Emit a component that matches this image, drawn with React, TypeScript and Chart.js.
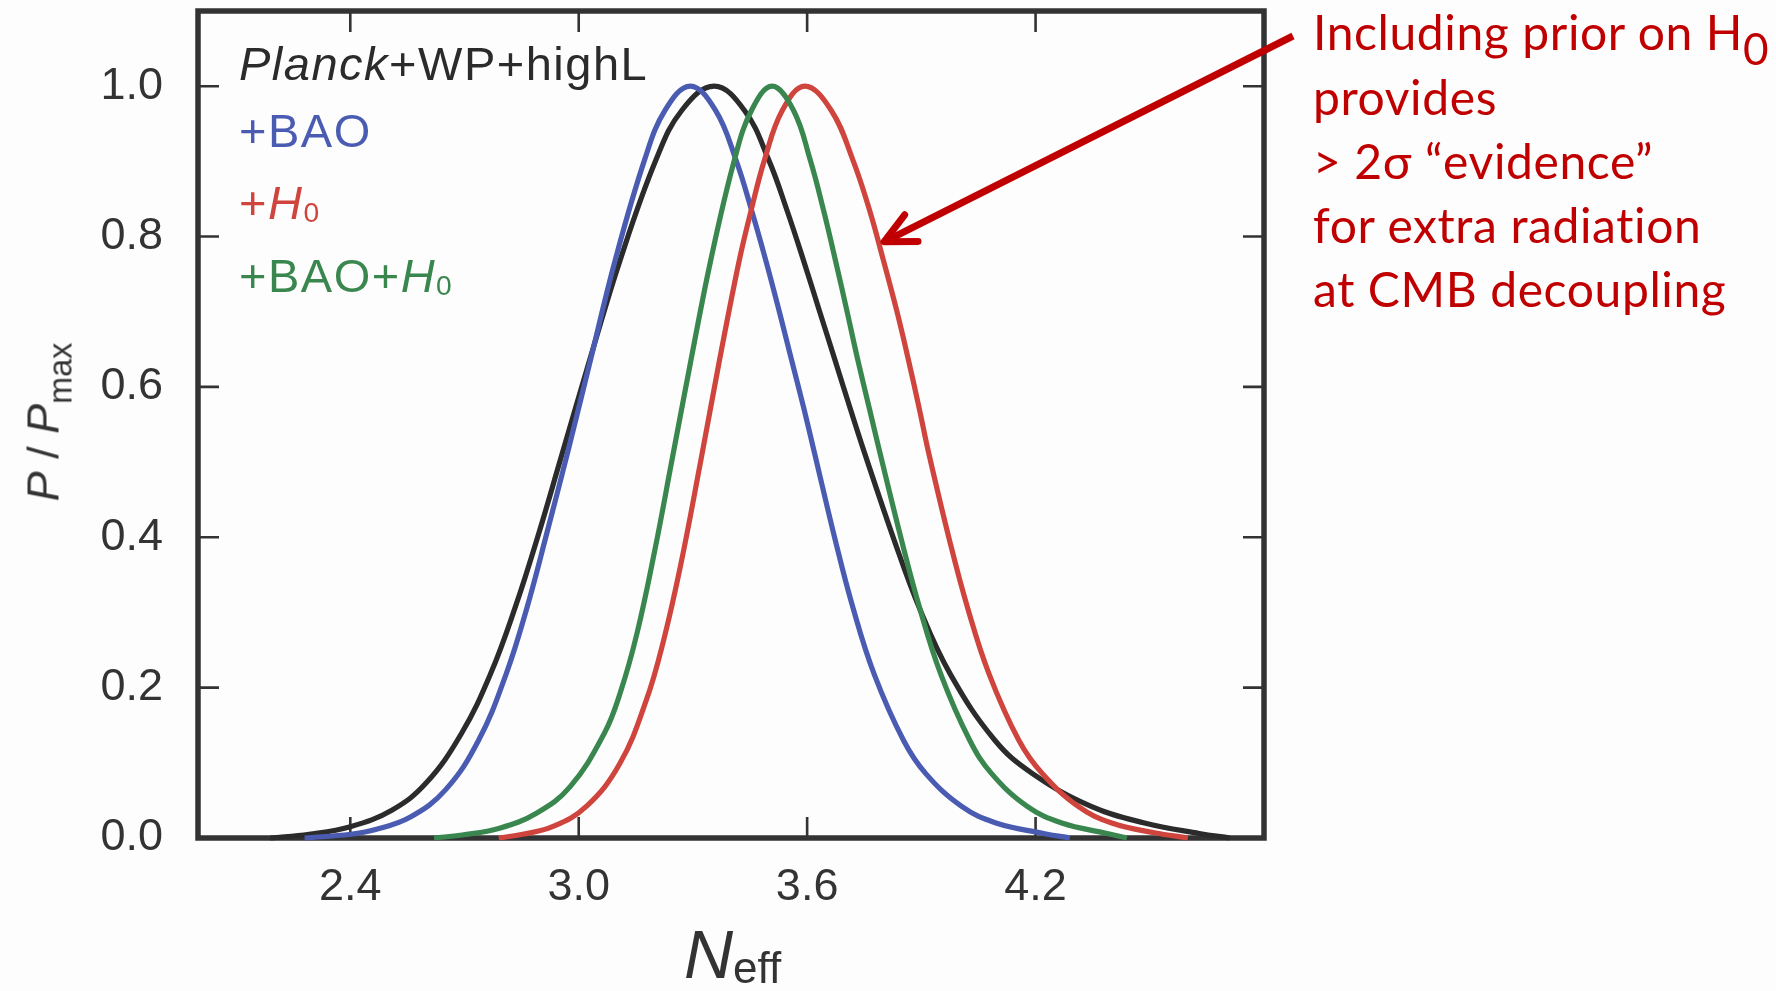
import React, { useEffect, useRef } from "react";
import { Chart, registerables } from "chart.js";

Chart.register(...registerables);

// ---------- data ----------
const xTickValues = [2.4, 3.0, 3.6, 4.2];
const yTickValues = [0.0, 0.2, 0.4, 0.6, 0.8, 1.0];
const xRange = [2.0, 4.8];
const yRange = [0, 1.1];

const seriesNames = ["Planck+WP+highL", "+BAO", "+H0", "+BAO+H0"];
const seriesColors = ["#2b2b2b", "#4a5bb2", "#cf453d", "#39874e"];

const planckN = [2.19, 2.292, 2.40, 2.509, 2.599, 2.692, 2.769, 2.834, 2.892, 2.953, 3.029, 3.109, 3.203, 3.271, 3.356, 3.435, 3.499, 3.547, 3.59, 3.633, 3.673, 3.714, 3.749, 3.826, 3.894, 3.976, 4.093, 4.191, 4.346, 4.486, 4.63, 4.71];
const planckP = [0.0, 0.005, 0.015, 0.037, 0.073, 0.139, 0.219, 0.308, 0.40, 0.505, 0.636, 0.769, 0.902, 0.968, 1.0, 0.968, 0.902, 0.835, 0.769, 0.70, 0.636, 0.57, 0.515, 0.40, 0.307, 0.218, 0.13, 0.086, 0.042, 0.02, 0.006, 0.0];

const baoN = [2.28, 2.401, 2.464, 2.558, 2.65, 2.737, 2.81, 2.865, 2.916, 2.972, 3.031, 3.096, 3.173, 3.227, 3.293, 3.359, 3.413, 3.454, 3.491, 3.527, 3.559, 3.592, 3.618, 3.674, 3.72, 3.776, 3.853, 3.911, 4.006, 4.096, 4.221, 4.29];
const baoP = [0.0, 0.005, 0.011, 0.028, 0.064, 0.13, 0.219, 0.308, 0.405, 0.515, 0.636, 0.769, 0.902, 0.968, 1.0, 0.968, 0.902, 0.835, 0.769, 0.70, 0.636, 0.57, 0.515, 0.396, 0.307, 0.218, 0.13, 0.086, 0.042, 0.02, 0.006, 0.0];

const h0N = [2.79, 2.853, 2.931, 3.02, 3.108, 3.178, 3.223, 3.267, 3.32, 3.37, 3.422, 3.453, 3.488, 3.535, 3.594, 3.663, 3.72, 3.764, 3.80, 3.836, 3.866, 3.895, 3.918, 3.974, 4.021, 4.078, 4.156, 4.217, 4.312, 4.40, 4.512, 4.60];
const h0P = [0.0, 0.005, 0.015, 0.042, 0.099, 0.184, 0.263, 0.361, 0.50, 0.636, 0.769, 0.835, 0.902, 0.968, 1.0, 0.968, 0.902, 0.835, 0.769, 0.70, 0.636, 0.57, 0.515, 0.396, 0.307, 0.218, 0.13, 0.086, 0.042, 0.02, 0.007, 0.0];

const baoH0N = [2.62, 2.694, 2.792, 2.889, 2.977, 3.067, 3.109, 3.153, 3.20, 3.244, 3.295, 3.347, 3.409, 3.454, 3.508, 3.564, 3.608, 3.643, 3.674, 3.705, 3.733, 3.764, 3.79, 3.848, 3.895, 3.951, 4.027, 4.084, 4.178, 4.269, 4.388, 4.44];
const baoH0P = [0.0, 0.004, 0.013, 0.033, 0.068, 0.139, 0.193, 0.272, 0.383, 0.50, 0.636, 0.769, 0.902, 0.968, 1.0, 0.968, 0.902, 0.835, 0.769, 0.70, 0.636, 0.57, 0.515, 0.396, 0.307, 0.218, 0.13, 0.086, 0.042, 0.02, 0.006, 0.0];

const seriesN = [planckN, baoN, h0N, baoH0N];
const seriesP = [planckP, baoP, h0P, baoH0P];

const annotationLines = ["Including prior on H", "provides", "> 2σ “evidence”", "for extra radiation", "at CMB decoupling"];
const annotationSub = "0";
const arrowTarget = { n: 3.802, p: 0.793 };

// ---------- styles ----------
const W = 1776;
const H = 991;
const AREA = { left: 198, top: 11, right: 1264, bottom: 838 };
const AXIS_FONT = '"Liberation Sans", Arial, Helvetica, sans-serif';
const NOTE_FONT = 'Lato, "Open Sans", "Noto Sans", sans-serif';
const FRAME = "#333333";
const NOTE_RED = "#c00000";

const framePlugin = {
  id: "frameTicksArrow",
  beforeDatasetsDraw(chart: any) {
    const { ctx, chartArea: a, scales } = chart;
    ctx.save();
    ctx.strokeStyle = FRAME;
    ctx.lineWidth = 2.6;
    ctx.lineCap = "butt";
    ctx.beginPath();
    const tl = 21;
    for (const v of xTickValues) {
      const px = scales.x.getPixelForValue(v);
      ctx.moveTo(px, a.bottom);
      ctx.lineTo(px, a.bottom - tl);
      ctx.moveTo(px, a.top);
      ctx.lineTo(px, a.top + tl);
    }
    for (const v of yTickValues) {
      const py = scales.y.getPixelForValue(v);
      ctx.moveTo(a.left, py);
      ctx.lineTo(a.left + tl, py);
      ctx.moveTo(a.right, py);
      ctx.lineTo(a.right - tl, py);
    }
    ctx.stroke();
    ctx.lineWidth = 5.5;
    ctx.lineJoin = "miter";
    ctx.strokeRect(a.left, a.top, a.right - a.left, a.bottom - a.top);
    ctx.restore();
  },
  afterDatasetsDraw(chart: any) {
    const { ctx, chartArea: a, scales } = chart;
    const tx = scales.x.getPixelForValue(arrowTarget.n);
    const ty = scales.y.getPixelForValue(arrowTarget.p);
    const sx = a.right + 29;
    const sy = a.top + 25;
    const ang = Math.atan2(sy - ty, sx - tx);
    ctx.save();
    ctx.strokeStyle = NOTE_RED;
    ctx.lineWidth = 7;
    ctx.lineCap = "butt";
    ctx.beginPath();
    ctx.moveTo(sx, sy);
    ctx.lineTo(tx + 4 * Math.cos(ang), ty + 4 * Math.sin(ang));
    ctx.stroke();
    const L = 34;
    const spread = (26 * Math.PI) / 180;
    ctx.lineCap = "round";
    ctx.lineJoin = "round";
    ctx.beginPath();
    ctx.moveTo(tx + L * Math.cos(ang - spread), ty + L * Math.sin(ang - spread));
    ctx.lineTo(tx, ty);
    ctx.lineTo(tx + L * Math.cos(ang + spread), ty + L * Math.sin(ang + spread));
    ctx.stroke();
    ctx.restore();
  },
};

const subStyle: React.CSSProperties = { fontSize: "0.6em", position: "relative", top: "0.12em", fontStyle: "normal" };

function formatName(name: string) {
  const parts = name.split(/(Planck|H0)/).filter((s) => s.length > 0);
  return parts.map((s, i) => {
    if (s === "Planck") return <i key={i}>Planck</i>;
    if (s === "H0")
      return (
        <span key={i}>
          <i>H</i>
          <span style={subStyle}>0</span>
        </span>
      );
    return <span key={i}>{s}</span>;
  });
}

const legendTops = [40, 107, 179, 252];

export default function App() {
  const ref = useRef<HTMLCanvasElement>(null);

  useEffect(() => {
    const canvas = ref.current;
    if (!canvas) return;
    const tickFont = { family: AXIS_FONT, size: 45, lineHeight: 1 };
    const zeroPad = (s: any) => {
      s.paddingLeft = 0;
      s.paddingRight = 0;
      s.paddingTop = 0;
      s.paddingBottom = 0;
    };
    const chart = new Chart(canvas, {
      type: "line",
      data: {
        datasets: seriesNames.map((name, k) => ({
          label: name,
          data: seriesN[k].map((n, i) => ({ x: n, y: seriesP[k][i] })),
          borderColor: seriesColors[k],
          backgroundColor: seriesColors[k],
          borderWidth: 5.2,
          pointRadius: 0,
          fill: false,
          tension: 0.4,
          clip: 10,
          order: 3 - k,
        })),
      },
      options: {
        responsive: false,
        maintainAspectRatio: false,
        animation: false,
        devicePixelRatio: 1,
        events: [],
        layout: {
          padding: { left: 0, top: AREA.top, right: W - AREA.right, bottom: 0 },
        },
        plugins: {
          legend: { display: false },
          tooltip: { enabled: false },
          title: { display: false },
        },
        scales: {
          x: {
            type: "linear",
            min: xRange[0],
            max: xRange[1],
            afterBuildTicks: (s: any) => {
              s.ticks = xTickValues.map((v) => ({ value: v }));
            },
            afterFit: (s: any) => {
              s.height = H - AREA.bottom;
              zeroPad(s);
            },
            grid: { display: false, drawTicks: false },
            border: { display: false },
            ticks: {
              padding: 27,
              color: "#333333",
              font: tickFont,
              autoSkip: false,
              maxRotation: 0,
              callback: (v: any) => Number(v).toFixed(1),
            },
          },
          y: {
            type: "linear",
            min: yRange[0],
            max: yRange[1],
            afterBuildTicks: (s: any) => {
              s.ticks = yTickValues.map((v) => ({ value: v }));
            },
            afterFit: (s: any) => {
              s.width = AREA.left;
              zeroPad(s);
            },
            grid: { display: false, drawTicks: false },
            border: { display: false },
            ticks: {
              padding: 35,
              color: "#333333",
              font: tickFont,
              autoSkip: false,
              callback: (v: any) => Number(v).toFixed(1),
            },
          },
        },
      },
      plugins: [framePlugin],
    } as any);
    return () => chart.destroy();
  }, []);

  return (
    <div
      style={{
        position: "absolute",
        left: 0,
        top: 0,
        width: W,
        height: H,
        background: "#fdfdfd",
        overflow: "hidden",
      }}
    >
      <canvas
        ref={ref}
        width={W}
        height={H}
        style={{ position: "absolute", left: 0, top: 0, width: W, height: H }}
      />
      {/* legend */}
      {seriesNames.map((name, k) => (
        <div
          key={name}
          style={{
            position: "absolute",
            left: 239,
            top: legendTops[k],
            fontFamily: AXIS_FONT,
            fontSize: 47,
            lineHeight: 1,
            letterSpacing: 1.5,
            color: seriesColors[k],
            whiteSpace: "nowrap",
          }}
        >
          {formatName(name)}
        </div>
      ))}
      {/* y-axis title */}
      <div
        style={{
          position: "absolute",
          left: 43,
          top: 422,
          transform: "translate(-50%, -50%) rotate(-90deg)",
          fontFamily: AXIS_FONT,
          fontSize: 45,
          lineHeight: 1,
          color: "#333333",
          whiteSpace: "nowrap",
        }}
      >
        <i>P</i> / <i>P</i>
        <span style={{ fontSize: "0.72em", position: "relative", top: "0.4em" }}>max</span>
      </div>
      {/* x-axis title */}
      <div
        style={{
          position: "absolute",
          left: 684,
          top: 920,
          fontFamily: AXIS_FONT,
          fontSize: 68,
          lineHeight: 1,
          color: "#333333",
          whiteSpace: "nowrap",
        }}
      >
        <i>N</i>
        <span style={{ fontSize: 44, position: "relative", top: 5 }}>eff</span>
      </div>
      {/* annotation */}
      <div
        style={{
          position: "absolute",
          left: 1313,
          top: 0,
          fontFamily: NOTE_FONT,
          fontSize: 48,
          letterSpacing: 0.6,
          lineHeight: "64px",
          color: NOTE_RED,
          whiteSpace: "nowrap",
        }}
      >
        {annotationLines.map((line, i) => (
          <div key={i}>
            {line}
            {i === 0 ? (
              <span style={{ fontSize: "0.92em", position: "relative", top: "0.33em" }}>{annotationSub}</span>
            ) : null}
          </div>
        ))}
      </div>
    </div>
  );
}
